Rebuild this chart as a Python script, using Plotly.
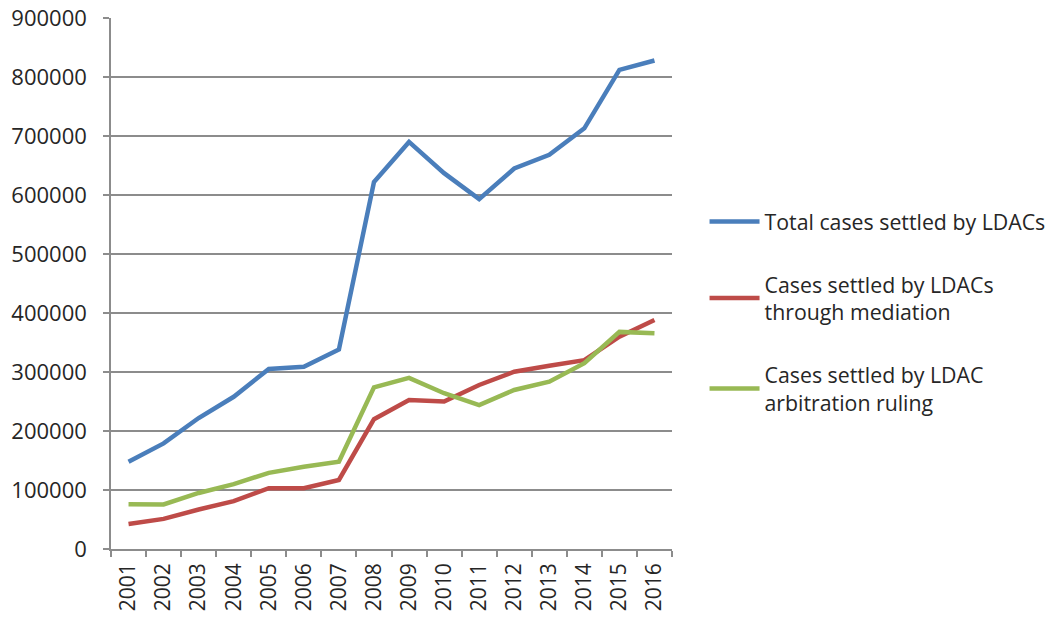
import plotly.graph_objects as go

years = [str(y) for y in range(2001, 2017)]

total_settled = [148000, 179000, 222000, 258000, 305000, 309000, 338000, 622000,
                 690000, 637000, 593000, 645000, 668000, 713000, 812000, 828000]
mediation = [42400, 51000, 67000, 81000, 103000, 103000, 117000, 220000,
             252500, 250000, 278000, 300500, 310500, 320000, 360000, 388000]
arbitration = [75800, 75500, 95000, 110000, 129000, 139500, 148000, 274000,
               290000, 264000, 244000, 269500, 283500, 315000, 368000, 365500]

series_names = [
    "Total cases settled by LDACs",
    "Cases settled by LDACs<br>through mediation",
    "Cases settled by LDAC<br>arbitration ruling",
]
colors = ["#4A7EBB", "#BE4B48", "#98B954"]

fig = go.Figure()
for i, (name, vals, col) in enumerate(zip(series_names, [total_settled, mediation, arbitration], colors)):
    fig.add_trace(go.Scatter(
        x=years, y=vals, name=name, mode="lines", legendgroup=f"g{i}",
        line=dict(color=col, width=4.5),
    ))

grid = "#8C8C8C"
font_family = "Open Sans, Lato, sans-serif"

fig.update_layout(
    width=1064, height=618,
    margin=dict(l=111, r=392, t=18, b=69),
    paper_bgcolor="white", plot_bgcolor="white",
    font=dict(family=font_family, size=21, color="#262626"),
    showlegend=True,
    legend=dict(
        x=1.058, xanchor="left", y=0.655, yanchor="top",
        font=dict(size=21.3, color="#262626"),
        tracegroupgap=32, itemwidth=50,
        bgcolor="rgba(0,0,0,0)",
    ),
)

fig.update_xaxes(
    type="category", range=[-0.5, 15.5],
    tickangle=-90, ticks="outside", tickson="boundaries", ticklen=6,
    tickcolor=grid, tickwidth=1.5, ticklabelstandoff=4,
    showline=True, linecolor=grid, linewidth=1.5,
    showgrid=False, tickfont=dict(size=21), automargin=False,
)
fig.update_yaxes(
    range=[0, 900000], dtick=100000, tickformat="d",
    ticks="outside", ticklen=6, tickcolor=grid, tickwidth=1.5, ticklabelstandoff=12,
    showline=True, linecolor=grid, linewidth=1.5,
    showgrid=True, gridcolor=grid, gridwidth=1.5,
    zeroline=False, tickfont=dict(size=22), automargin=False,
)

fig.write_html("out.html")
